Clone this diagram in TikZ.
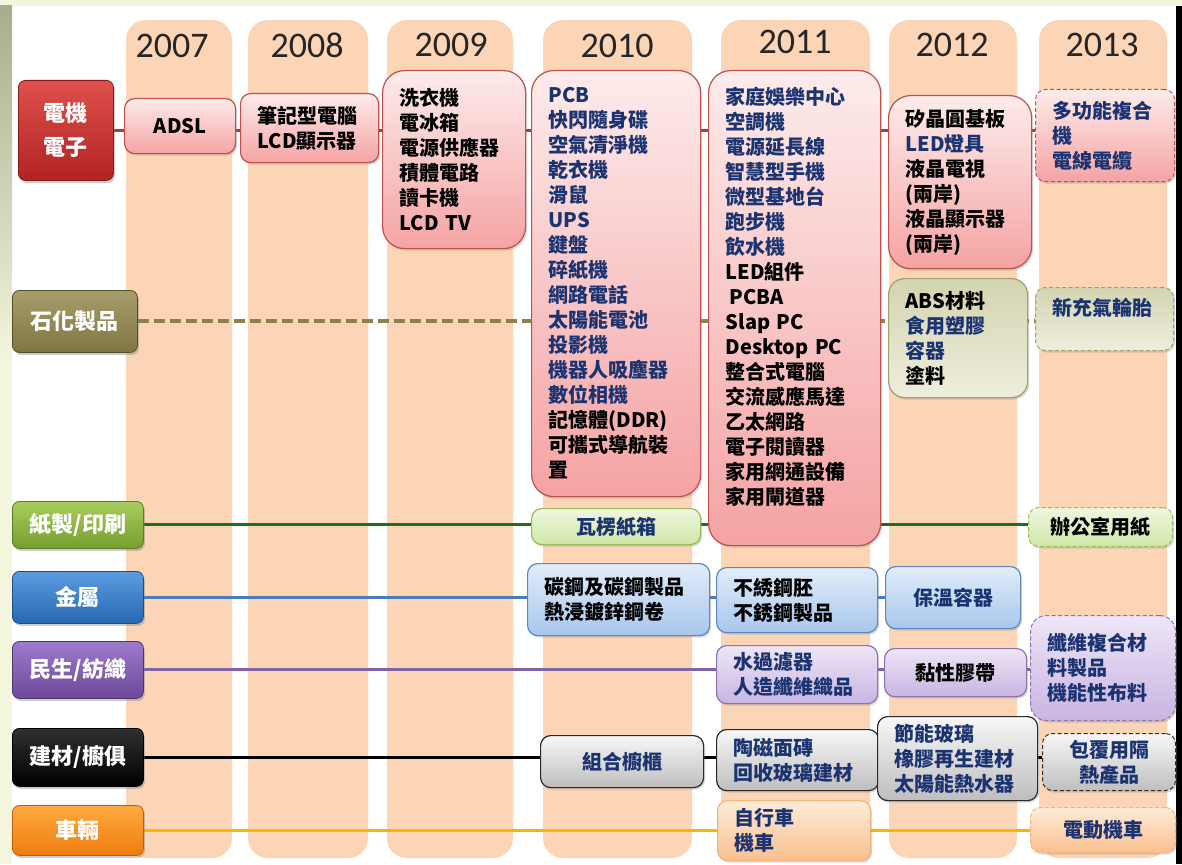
\documentclass[tikz,border=0pt]{standalone}
\usepackage{fontspec}
\setmainfont{Noto Sans CJK TC}
\newfontfamily\yearfont{Carlito}
\usetikzlibrary{shadows}
\definecolor{cream}{HTML}{F3F5DC}
\definecolor{strip}{HTML}{A9AC8E}
\definecolor{peach}{HTML}{FBD5B5}
\definecolor{navy}{HTML}{1B3370}
\definecolor{pkT}{HTML}{FDEBEB}\definecolor{pkB}{HTML}{F5A3A3}\definecolor{pkD}{HTML}{C0504D}
\definecolor{olT}{HTML}{D3D4B0}\definecolor{olB}{HTML}{EEEEDD}\definecolor{olD}{HTML}{A29E6E}
\definecolor{grT}{HTML}{F0F7E0}\definecolor{grB}{HTML}{CFE6A6}\definecolor{grD}{HTML}{9BBB59}
\definecolor{blT}{HTML}{E2EDFA}\definecolor{blB}{HTML}{A8C6EC}\definecolor{blD}{HTML}{5B87C0}
\definecolor{puT}{HTML}{EEE6F6}\definecolor{puB}{HTML}{C8B4E2}\definecolor{puD}{HTML}{8B72B0}
\definecolor{gyT}{HTML}{F7F7F7}\definecolor{gyB}{HTML}{BEBEBE}\definecolor{gyD}{HTML}{2A2A2A}
\definecolor{orT}{HTML}{FDEBD8}\definecolor{orB}{HTML}{FAC08F}\definecolor{orD}{HTML}{F2B27A}
\definecolor{c1T}{HTML}{DE504C}\definecolor{c1B}{HTML}{B22421}\definecolor{c1D}{HTML}{821C1A}
\definecolor{c2T}{HTML}{A69D6A}\definecolor{c2B}{HTML}{807642}\definecolor{c2D}{HTML}{554E2A}
\definecolor{c3T}{HTML}{AACD5F}\definecolor{c3B}{HTML}{769E30}\definecolor{c3D}{HTML}{5A7D22}
\definecolor{c4T}{HTML}{5C9CE0}\definecolor{c4B}{HTML}{2868B2}\definecolor{c4D}{HTML}{1E4C87}
\definecolor{c5T}{HTML}{9E7ACC}\definecolor{c5B}{HTML}{6C4A98}\definecolor{c5D}{HTML}{4E3472}
\definecolor{c6T}{HTML}{303030}\definecolor{c6B}{HTML}{000000}\definecolor{c6D}{HTML}{000000}
\definecolor{c7T}{HTML}{FFAA42}\definecolor{c7B}{HTML}{EE7C0E}\definecolor{c7D}{HTML}{BE6000}
\definecolor{l1}{HTML}{B03A38}\definecolor{l2}{HTML}{8C8250}\definecolor{l3}{HTML}{1E6E1E}
\definecolor{l4}{HTML}{4A7EBB}\definecolor{l5}{HTML}{7E62A8}\definecolor{l7}{HTML}{F5B800}
\newcommand{\blk}[1]{{\color{black}#1}}
\newcommand{\nvy}[1]{{\color{navy}#1}}
\pgfdeclarelayer{bg}\pgfdeclarelayer{ln}
\pgfsetlayers{bg,ln,main}
\tikzset{
 itm/.style={draw, rounded corners=10pt, line width=1.2pt, anchor=north west,
   inner xsep=17pt, inner ysep=0pt, text=navy, align=left,
   font=\bfseries\fontsize{20}{25}\selectfont,
   drop shadow={opacity=0.3, shadow xshift=1.5pt, shadow yshift=-2pt}},
 big/.style={rounded corners=22pt},
 dsh/.style={dash pattern=on 4pt off 2.5pt, line width=1pt},
 sz/.code 2 args={\pgfmathsetmacro\tw{#1-34}\edef\tmp{\noexpand\tikzset{minimum width=#1pt,minimum height=#2pt,text width=\tw pt}}\tmp},
 pk/.style={top color=pkT, bottom color=pkB, draw=pkD},
 ol/.style={top color=olT, bottom color=olB, draw=olD},
 gr/.style={top color=grT, bottom color=grB, draw=grD},
 bl/.style={top color=blT, bottom color=blB, draw=blD},
 pu/.style={top color=puT, bottom color=puB, draw=puD},
 gy/.style={top color=gyT, bottom color=gyB, draw=gyD},
 orr/.style={top color=orT, bottom color=orB, draw=orD},
 cat/.style={draw, rounded corners=7pt, line width=0.8pt, anchor=north west, inner sep=0pt,
   text=white, align=center, font=\bfseries\fontsize{22}{34}\selectfont,
   top color=#1T, bottom color=#1B, draw=#1D,
   drop shadow={opacity=0.4, shadow xshift=1.5pt, shadow yshift=-2.5pt}},
 csz/.style 2 args={minimum width=#1pt, minimum height=#2pt},
 yr/.style={font=\yearfont\fontsize{36}{36}\selectfont, text=black!85, inner sep=0pt},
 rl/.style={line width=3pt},
}
\begin{document}
\begin{tikzpicture}[x=1pt,y=-1pt]
\useasboundingbox (0,0) rectangle (1182,864);
\begin{pgfonlayer}{bg}
\fill[cream] (0,0) rectangle (1182,864);
\fill[white] (12,6) rectangle (1176,864);
\shade[top color=strip, bottom color=cream] (0,6) rectangle (12,360);
\fill[black] (1176,6) rectangle (1182,864);
\foreach \xa/\xb in {126/232,248/368,387/513,543/692,721/870,889/1017,1039/1167}
  \fill[peach, rounded corners=20pt] (\xa,20) rectangle (\xb,858);
\end{pgfonlayer}
% years
\node[yr] (y2007) at (172,46) {2007};
\node[yr] (y2008) at (307,45) {2008};
\node[yr] (y2009) at (451,45) {2009};
\node[yr] (y2010) at (617,46) {2010};
\node[yr] (y2011) at (795,42) {2011};
\node[yr] (y2012) at (952,45) {2012};
\node[yr] (y2013) at (1102,45) {2013};
% categories
\node[cat=c1, csz={95}{100}] (c1) at (18,80) {電機\\電子};
\node[cat=c2, csz={125}{62}] (c2) at (12,290) {石化製品};
\node[cat=c3, csz={131}{47}] (c3) at (12,501) {紙製/印刷};
\node[cat=c4, csz={131}{52}] (c4) at (12,571) {金屬};
\node[cat=c5, csz={131}{57}] (c5) at (12,641) {民生/紡織};
\node[cat=c6, csz={131}{58}] (c6) at (12,728) {建材/櫥俱};
\node[cat=c7, csz={131}{50}] (c7) at (12,805) {車輛};
% row 1: electronics
\node[itm, pk, sz={111}{55}, align=center, text=black] (e2007) at (124,98) {ADSL};
\node[itm, pk, sz={138}{69}, text=black] (e2008) at (240,93) {筆記型電腦\\LCD顯示器};
\node[itm, pk, big, sz={143}{178}, text=black] (e2009) at (382,70) {洗衣機\\電冰箱\\電源供應器\\積體電路\\讀卡機\\LCD TV};
\node[itm, pk, big, sz={169}{426}] (e2010) at (531,70) {PCB\\快閃隨身碟\\空氣清淨機\\乾衣機\\滑鼠\\UPS\\鍵盤\\碎紙機\\網路電話\\太陽能電池\\投影機\\機器人吸塵器\\數位相機\\\blk{記憶體(DDR)}\\\blk{可攜式導航裝}\\\blk{置}};
\node[itm, pk, big, sz={172}{475}] (e2011) at (708,70) {家庭娛樂中心\\空調機\\電源延長線\\智慧型手機\\微型基地台\\跑步機\\飲水機\\\blk{LED組件}\\\blk{\hspace{4pt}PCBA}\\\blk{Slap PC}\\\blk{Desktop PC}\\\blk{整合式電腦}\\\blk{交流感應馬達}\\\blk{乙太網路}\\\blk{電子閱讀器}\\\blk{家用網通設備}\\\blk{家用閘道器}\\\mbox{}};
\node[itm, pk, big, sz={143}{173}, text=black] (e2012) at (888,95) {矽晶圓基板\\\nvy{LED燈具}\\液晶電視\\(兩岸)\\液晶顯示器\\(兩岸)};
\node[itm, pk, dsh, sz={139}{92}] (e2013) at (1035,89) {多功能複合\\機\\電線電纜};
% row 2: petrochemical
\node[itm, ol, rounded corners=16pt, sz={139}{119}, text=black] (p2012) at (888,278) {ABS材料\\\nvy{食用塑膠}\\\nvy{容器}\\塗料};
\node[itm, ol, dsh, sz={138}{63}] (p2013) at (1035,287) {新充氣輪胎\\\mbox{}};
% row 3: paper
\node[itm, gr, sz={169}{36}, align=center] (w2010) at (531,508) {瓦楞紙箱};
\node[itm, gr, dsh, sz={144}{39}, align=center, text=black] (w2013) at (1028,507) {辦公室用紙};
% row 4: metal
\node[itm, bl, sz={182}{72}, text=black] (m2010) at (527,563) {碳鋼及碳鋼製品\\熱浸鍍鋅鋼卷};
\node[itm, bl, sz={161}{65}, text=black] (m2011) at (716,567) {不綉鋼胚\\不銹鋼製品};
\node[itm, bl, sz={135}{62}, align=center] (m2012) at (885,566) {保溫容器};
% row 5: consumer / textile
\node[itm, pu, sz={161}{58}] (s2011) at (716,645) {水過濾器\\人造纖維織品};
\node[itm, pu, sz={142}{48}, align=center, text=black] (s2012) at (884,648) {黏性膠帶};
\node[itm, pu, dsh, rounded corners=16pt, sz={145}{105}] (s2013) at (1030,615) {纖維複合材\\料製品\\機能性布料};
% row 6: building materials
\node[itm, gy, sz={163}{52}, align=center] (b2010) at (540,735) {組合櫥櫃};
\node[itm, gy, sz={162}{61}] (b2011) at (716,729) {陶磁面磚\\回收玻璃建材};
\node[itm, gy, sz={160}{84}] (b2012) at (877,716) {節能玻璃\\橡膠再生建材\\太陽能熱水器};
\node[itm, gy, dsh, sz={133}{57}, align=center] (b2013) at (1042,733) {包覆用隔\\熱產品};
% row 7: vehicles
\node[itm, orr, sz={153}{60}] (v2011) at (717,800) {自行車\\機車};
\node[itm, orr, dsh, sz={145}{45}, align=center] (v2013) at (1030,807) {電動機車};
% row connectors
\begin{pgfonlayer}{ln}
\draw[rl, l1] (c1.east) -- (c1.east -| e2013.west);
\draw[line width=4pt, l2, dash pattern=on 11pt off 5pt] (c2.east) -- (c2.east -| p2013.west);
\draw[rl, l3] (c3.east) -- (c3.east -| w2013.west);
\draw[rl, l4] (c4.east) -- (c4.east -| m2012.west);
\draw[rl, l5] (c5.east) -- (c5.east -| s2013.west);
\draw[line width=3.5pt, black] (c6.east) -- (c6.east -| b2013.west);
\draw[rl, l7] (c7.east) -- (c7.east -| v2013.west);
\end{pgfonlayer}
\end{tikzpicture}
\end{document}
